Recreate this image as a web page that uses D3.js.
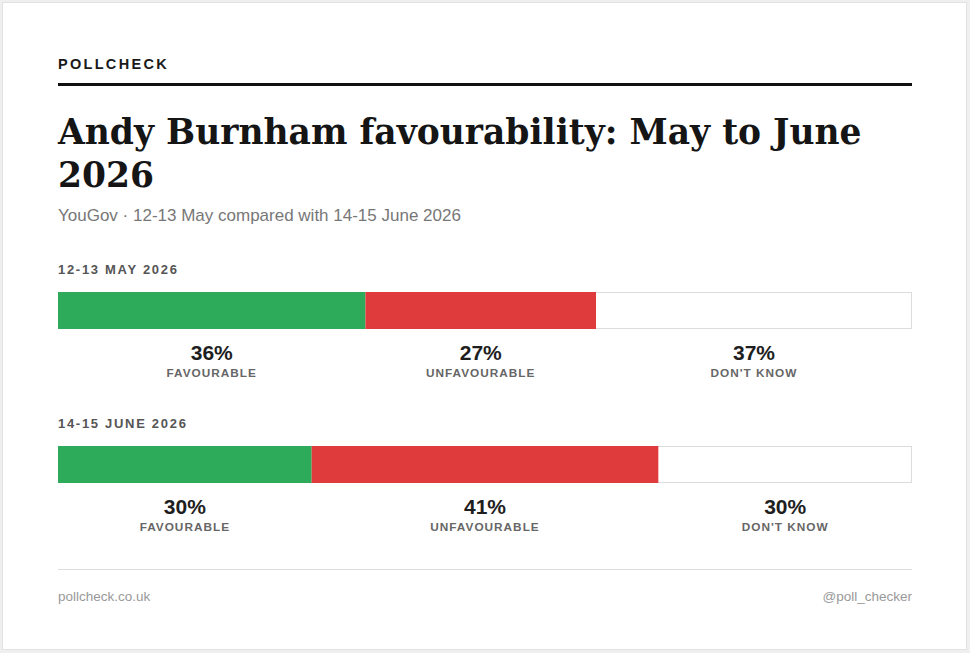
<!DOCTYPE html>
<html lang="en">
<head>
    <meta charset="UTF-8">
    <title>Andy Burnham favourability</title>
    <script src="https://d3js.org/d3.v7.min.js"></script>
    <style>
        body { margin: 0; background: #efefef; }
        svg { display: block; }
    </style>
</head>
<body>
    <script>
        // poll data
        const periods = ['12-13 MAY 2026', '14-15 JUNE 2026'];
        const categories = ['FAVOURABLE', 'UNFAVOURABLE', "DON'T KNOW"];
        const favourable = [36, 30];
        const unfavourable = [27, 41];
        const dontKnow = [37, 30];

        const W = 970, H = 653;
        const left = 58, right = 912;
        const colors = ['#2eaa5b', '#e03b3c', '#ffffff'];

        const svg = d3.select("body").append("svg")
            .attr("width", W)
            .attr("height", H);

        // card
        svg.append("rect")
            .attr("x", 2.5).attr("y", 2.5)
            .attr("width", W - 6).attr("height", H - 6)
            .attr("fill", "#fff")
            .attr("stroke", "#e2e2e2");

        const sans = "'Liberation Sans', Arial, Helvetica, sans-serif";

        svg.append("text")
            .attr("x", left).attr("y", 69)
            .style("font-family", sans)
            .style("font-weight", "bold")
            .style("font-size", "14.5px")
            .style("letter-spacing", "2.3px")
            .attr("fill", "#1a1a1a")
            .text("POLLCHECK");

        svg.append("rect")
            .attr("x", left).attr("y", 83)
            .attr("width", right - left).attr("height", 3)
            .attr("fill", "#111");

        // title, sized to fit the width of the original
        const title = svg.append("text")
            .style("font-family", "'DejaVu Serif', Georgia, serif")
            .style("font-weight", "bold")
            .attr("fill", "#151515");
        const line1 = title.append("tspan").attr("x", left).attr("y", 144)
            .text("Andy Burnham favourability: May to June");
        title.style("font-size", "34px");
        const w1 = line1.node().getComputedTextLength();
        const fs = Math.min(36, 34 * 804 / w1);
        title.style("font-size", fs + "px");
        title.append("tspan").attr("x", left).attr("y", 187).text("2026");

        svg.append("text")
            .attr("x", left).attr("y", 221)
            .style("font-family", sans)
            .style("font-size", "17px")
            .attr("fill", "#777")
            .text("YouGov \u00b7 12-13 May compared with 14-15 June 2026");

        const rows = periods.map((p, i) => ({
            period: p,
            values: [favourable[i], unfavourable[i], dontKnow[i]]
        }));

        const rowY = d3.scaleOrdinal().domain(periods).range([292, 446]);
        const barH = 37;

        rows.forEach(row => {
            const y0 = rowY(row.period);
            const total = d3.sum(row.values);
            const x = d3.scaleLinear().domain([0, total]).range([left, right]);
            const cum = d3.cumsum(row.values);
            const segs = row.values.map((v, j) => ({
                value: v, cat: categories[j], color: colors[j],
                start: j === 0 ? 0 : cum[j - 1], end: cum[j]
            }));

            const g = svg.append("g");

            g.append("text")
                .attr("x", left).attr("y", y0 - 18)
                .style("font-family", sans)
                .style("font-weight", "bold")
                .style("font-size", "13px")
                .style("letter-spacing", "1.7px")
                .attr("fill", "#555")
                .text(row.period);

            // outline of the full bar
            g.append("rect")
                .attr("x", x(0) + 0.5).attr("y", y0 + 0.5)
                .attr("width", x(total) - x(0) - 1).attr("height", barH - 1)
                .attr("fill", "#fff")
                .attr("stroke", "#dcdcdc");

            g.selectAll("rect.seg")
                .data(segs.filter(d => d.color !== '#ffffff'))
                .enter().append("rect")
                .attr("class", "seg")
                .attr("x", d => x(d.start))
                .attr("y", y0)
                .attr("width", d => x(d.end) - x(d.start))
                .attr("height", barH)
                .attr("fill", d => d.color);

            g.selectAll("text.pct")
                .data(segs)
                .enter().append("text")
                .attr("class", "pct")
                .attr("x", d => (x(d.start) + x(d.end)) / 2)
                .attr("y", y0 + barH + 31)
                .attr("text-anchor", "middle")
                .style("font-family", sans)
                .style("font-weight", "bold")
                .style("font-size", "21px")
                .attr("fill", "#1e1e1e")
                .text(d => d.value + "%");

            g.selectAll("text.cat")
                .data(segs)
                .enter().append("text")
                .attr("class", "cat")
                .attr("x", d => (x(d.start) + x(d.end)) / 2)
                .attr("y", y0 + barH + 48)
                .attr("text-anchor", "middle")
                .style("font-family", sans)
                .style("font-weight", "bold")
                .style("font-size", "11.8px")
                .style("letter-spacing", "1px")
                .attr("fill", "#666")
                .text(d => d.cat);
        });

        // footer
        svg.append("rect")
            .attr("x", left).attr("y", 569)
            .attr("width", right - left).attr("height", 1)
            .attr("fill", "#dedede");

        svg.append("text")
            .attr("x", left).attr("y", 601)
            .style("font-family", sans)
            .style("font-size", "13.5px")
            .attr("fill", "#999")
            .text("pollcheck.co.uk");

        svg.append("text")
            .attr("x", right).attr("y", 601)
            .attr("text-anchor", "end")
            .style("font-family", sans)
            .style("font-size", "13.5px")
            .attr("fill", "#999")
            .text("@poll_checker");
    </script>
</body>
</html>
